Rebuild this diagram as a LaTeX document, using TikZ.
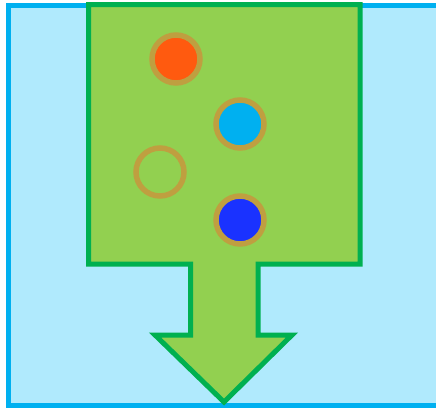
\documentclass[tikz,border=0pt]{standalone}
\usepackage{tikz}
\usetikzlibrary{positioning}

\definecolor{boxblue}{HTML}{00B0F0}
\definecolor{paleblue}{HTML}{B0EAFD}
\definecolor{leafgreen}{HTML}{92D050}
\definecolor{darkgreen}{HTML}{00B050}
\definecolor{ringtan}{HTML}{BF9F40}
\definecolor{ballorange}{HTML}{FF5A0F}
\definecolor{ballblue}{HTML}{1A32FF}

\tikzset{
    ball/.style={circle, draw=ringtan, line width=5.5pt, minimum size=48pt, inner sep=0pt}
}

\begin{document}
\begin{tikzpicture}[x=1pt, y=-1pt]

    % Frame
    \useasboundingbox (0, 0) rectangle (436, 408);

    % Background box
    \draw[line width=5pt, draw=boxblue, fill=paleblue] (440, 405) -- (8.5, 405) -- (8.5, 5) -- (440, 5);

    % Arrow shape
    \draw[line width=5pt, draw=darkgreen, fill=leafgreen, line join=miter]
        (88.5, 4.5) -- (360, 4.5) -- (360, 264) -- (258, 264) -- (258, 335)
        -- (292, 335) -- (224, 402) -- (155, 335) -- (190.5, 335)
        -- (190.5, 264) -- (88.5, 264) -- cycle;

    % Balls
    \node[ball, fill=ballorange] (orange) at (176, 59) {};
    \node[ball, fill=boxblue] (cyan) at (240, 124) {};
    \node[ball] (empty) at (160, 172) {};
    \node[ball, fill=ballblue] (blue) at (240, 220) {};

\end{tikzpicture}
\end{document}
